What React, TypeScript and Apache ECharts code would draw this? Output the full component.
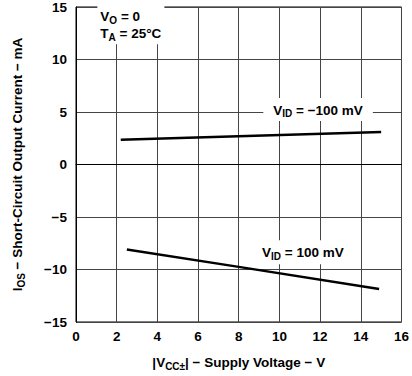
import React, { useEffect, useRef } from "react";
import * as echarts from "echarts";

const xTicks = [0, 2, 4, 6, 8, 10, 12, 14, 16];
const yTicks = [-15, -10, -5, 0, 5, 10, 15];

const vidNeg100X = [2.2, 15.0];
const vidNeg100Y = [2.35, 3.1];

const vid100X = [2.5, 8.0, 14.9];
const vid100Y = [-8.1, -9.75, -11.85];

const labelNeg100Pos = [11.9, 5.25];
const label100Pos = [11.15, -8.35];
const condPos = [1.05, 13.3];

const FONT = '"Liberation Sans", Arial, Helvetica, sans-serif';
const FS = 13.5;

const rich = {
  n: { fontSize: FS, fontWeight: "bold", fontFamily: FONT, color: "#000" },
  s: { fontSize: 10, fontWeight: "bold", fontFamily: FONT, color: "#000", padding: [7, 0, 0, 0] },
};

export default function App() {
  const ref = useRef<HTMLDivElement>(null);
  useEffect(() => {
    if (!ref.current) return;
    const chart = echarts.init(ref.current, null, { renderer: "svg", width: 412, height: 376 });
    const pairs = (xs: number[], ys: number[]) => xs.map((x, i) => [x, ys[i]]);
    chart.setOption({
      animation: false,
      backgroundColor: "#fff",
      grid: {
        left: 76,
        right: 10,
        top: 4,
        bottom: 46,
        show: true,
        borderColor: "#000",
        borderWidth: 1,
      },
      xAxis: {
        type: "value",
        min: xTicks[0],
        max: xTicks[xTicks.length - 1],
        interval: 2,
        axisLine: { show: true, lineStyle: { color: "#000", width: 1 } },
        axisTick: { show: false },
        splitLine: { show: true, lineStyle: { color: "#444", width: 1 } },
        axisLabel: {
          fontSize: FS,
          fontWeight: "bold",
          fontFamily: FONT,
          color: "#000",
          margin: 7,
        },
        name: "{n||V}{s|CC±}{n|| − Supply Voltage − V}",
        nameLocation: "middle",
        nameGap: 32,
        nameTextStyle: { rich },
      },
      yAxis: {
        type: "value",
        min: yTicks[0],
        max: yTicks[yTicks.length - 1],
        interval: 5,
        axisLine: { show: true, lineStyle: { color: "#000", width: 1 } },
        axisTick: { show: false },
        splitLine: { show: true, lineStyle: { color: "#444", width: 1 } },
        axisLabel: {
          fontSize: FS,
          fontWeight: "bold",
          fontFamily: FONT,
          color: "#000",
          margin: 9,
          formatter: (v: number) => (v < 0 ? "\u2212" + -v : String(v)),
        },
        name: "{n|I}{s|OS}{n| − Short-Circuit Output Current − mA}",
        nameLocation: "middle",
        nameRotate: 90,
        nameGap: 50,
        nameTextStyle: { rich },
      },
      series: [
        {
          type: "line",
          name: "VID = -100 mV",
          data: pairs(vidNeg100X, vidNeg100Y),
          symbol: "none",
          lineStyle: { color: "#000", width: 2.5 },
          z: 5,
        },
        {
          type: "line",
          name: "VID = 100 mV",
          data: pairs(vid100X, vid100Y),
          symbol: "none",
          lineStyle: { color: "#000", width: 2.5 },
          z: 5,
        },
      ],
    });

    const p1 = chart.convertToPixel({ gridIndex: 0 }, labelNeg100Pos) as number[];
    const p2 = chart.convertToPixel({ gridIndex: 0 }, label100Pos) as number[];
    const p3 = chart.convertToPixel({ gridIndex: 0 }, condPos) as number[];
    chart.setOption({
      graphic: [
        {
          type: "text",
          x: p1[0],
          y: p1[1],
          z: 10,
          style: {
            text: "{n|V}{s|ID}{n| = \u2212100 mV}",
            rich,
            align: "center",
            verticalAlign: "middle",
            backgroundColor: "#fff",
            padding: [4, 10, 2, 10],
          },
        },
        {
          type: "text",
          x: p2[0],
          y: p2[1],
          z: 10,
          style: {
            text: "{n|V}{s|ID}{n| = 100 mV}",
            rich,
            align: "center",
            verticalAlign: "middle",
            backgroundColor: "#fff",
            padding: [4, 6, 3, 6],
          },
        },
        {
          type: "text",
          x: p3[0],
          y: p3[1],
          z: 10,
          style: {
            text: "{n|V}{s|O}{n| = 0}\n{n|T}{s|A}{n| = 25°C}",
            rich,
            align: "left",
            verticalAlign: "middle",
            backgroundColor: "#fff",
            padding: [3, 3, 2, 3],
          },
        },
      ],
    });
    return () => chart.dispose();
  }, []);
  return (
    <div
      ref={ref}
      style={{ position: "fixed", left: 0, top: 0, width: 412, height: 376, background: "#fff" }}
    />
  );
}
